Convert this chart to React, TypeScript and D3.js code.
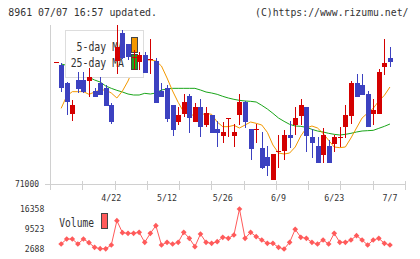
import React from "react";
import * as d3 from "d3";

const W = 420;
const H = 259;

// daily candles (yen)
const opens = [
  74570, 74030, 73110, 74120, 74120, 74100, 73790, 74030, 73870, 73370,
  74680, 75530, 75190, 74810, 74670, 74870, 74750, 74690, 73790, 73870,
  73370, 72870, 73100, 73640, 72870, 73320, 72770, 73070, 72650, 72450,
  72970, 72450, 73060, 73470, 72650, 72630, 72070, 71810, 71120, 71990,
  71980, 72470, 72770, 73050, 73310, 72400, 72140, 71870, 72140, 72210,
  72400, 72720, 73050, 74020, 73970, 73700, 73100, 73090, 74520, 74770,
];
const highs = [
  74630, 74060, 73520, 74360, 74360, 74480, 73880, 74210, 73970, 73430,
  75770, 75620, 75200, 75020, 74970, 74950, 75350, 74790, 74030, 73970,
  73380, 73310, 73700, 73700, 73430, 73550, 73300, 73080, 72890, 72870,
  72990, 72800, 73700, 73480, 72660, 72800, 72550, 72150, 71910, 72470,
  72620, 72890, 73300, 73550, 73320, 72650, 72410, 72670, 72320, 72470,
  72720, 73370, 74090, 74290, 74290, 73790, 73550, 74450, 75350, 75120,
];
const lows = [
  73760, 73060, 72880, 73730, 73730, 73620, 73610, 73660, 73340, 72790,
  74300, 74760, 74720, 74420, 74420, 74330, 74290, 73430, 73610, 72870,
  72450, 72770, 73020, 72540, 72860, 72400, 72720, 72530, 72120, 72220,
  72400, 72120, 72760, 72680, 71720, 72220, 71460, 71240, 71110, 71470,
  71720, 72070, 72470, 72770, 71970, 71790, 71630, 71630, 71630, 71970,
  72120, 72390, 72800, 73610, 73660, 72710, 72770, 73090, 74270, 74520,
];
const closes = [
  73880, 73450, 73370, 73850, 73770, 74210, 73620, 73670, 73350, 72870,
  75110, 74770, 74810, 74820, 74870, 74340, 74760, 73440, 73620, 72950,
  72620, 73070, 73470, 72970, 73320, 72720, 73120, 72540, 72540, 72570,
  72980, 72570, 73470, 72870, 72050, 72640, 71470, 71550, 71900, 72000,
  72470, 72390, 72970, 73370, 72450, 72220, 71640, 72470, 71640, 72400,
  72410, 73070, 74030, 73620, 73670, 72720, 73220, 74370, 74640, 74660,
];

// moving averages as drawn
const ma5 = [
  73270, 73640, 73770, 73770, 73770, 73690, 73760, 73820, 73820, 73730,
  73580, 73790, 74090, 74480, 74660, 74720, 74720, 74690, 74540, 74180,
  73790, 73450, 73160, 73080, 73060, 73070, 73120, 73090, 72860, 72720,
  72720, 72760, 72680, 72770, 72860, 72820, 72770, 72550, 72170, 71930,
  71900, 71930, 72110, 72440, 72680, 72740, 72680, 72520, 72310, 72110,
  72090, 72110, 72380, 72680, 72980, 73130, 73270, 73490, 73660, 73910,
];
const ma25 = [
  74600, 74560, 74480, 74390, 74300, 74200, 74120, 74060, 73940, 73870,
  73810, 73760, 73700, 73670, 73670, 73720, 73700, 73730, 73820, 73850,
  73870, 73870, 73870, 73870, 73870, 73820, 73760, 73730, 73690, 73630,
  73580, 73540, 73510, 73490, 73480, 73460, 73360, 73250, 73120, 72980,
  72880, 72790, 72740, 72730, 72700, 72640, 72590, 72560, 72520, 72490,
  72470, 72490, 72520, 72560, 72590, 72600, 72610, 72670, 72730, 72800,
];

const volumes = [
  4400, 6100, 6100, 4400, 6100, 4850, 3250, 2800, 2750, 4050,
  12370, 8270, 8040, 8040, 8390, 4970, 8040, 10660, 4050, 4970,
  4400, 4970, 8390, 6340, 3490, 7810, 4970, 4620, 5200, 6680,
  6340, 7470, 16358, 6340, 8390, 6900, 5760, 4620, 4620, 3250,
  2688, 4970, 9410, 6680, 6340, 4970, 4400, 5760, 4400, 8040,
  4970, 4970, 5760, 7250, 5760, 4050, 5760, 6340, 4620, 4050,
];

const dateLabels = ["4/22", "5/12", "5/26", "6/9", "6/23", "7/7"];
const dateIndex = [9, 19, 29, 39, 49, 59];
const priceLabel = 71000;

const RED = "#d40000";
const BLUE = "#3c41c0";
const ORANGE = "#f39800";
const GREEN = "#1aa51a";
const VOL = "#ff5a5a";
const GRID = "#d0d0d0";
const TXT = "#333";
const FONT = "'DejaVu Sans Mono', monospace";

export default function App() {
  const x = d3.scaleLinear().domain([-2, 61.7]).range([50, 405]);
  const y = d3.scaleLinear().domain([priceLabel, 75770]).range([184, 25]);
  const vExt = d3.extent(volumes) as [number, number];
  const yv = d3.scaleLinear().domain(vExt).range([249, 209]);
  const vMid = Math.round((vExt[0] + vExt[1]) / 2);

  const maLine = d3
    .line<number>()
    .x((_, i) => x(i))
    .y((d) => y(d));
  const volLine = d3
    .line<number>()
    .x((_, i) => x(i))
    .y((d) => yv(d));
  const diamond = d3.symbol(d3.symbolSquare, 16)();

  const gridTicks = d3.range(12).map((k) => 50 + (k * (405 - 50)) / 11);
  const lastClose = closes[closes.length - 1];

  return (
    <svg
      width={W}
      height={H}
      style={{ position: "absolute", left: 0, top: 0, background: "#fff" }}
      fontFamily={FONT}
    >
      <rect width={W} height={H} fill="#fff" />
      <text x={8.3} y={15.5} fontSize={10} fill={TXT} textLength={148.7} lengthAdjust="spacingAndGlyphs">
        8961 07/07 16:57 updated.
      </text>
      <text x={255} y={15.5} fontSize={10} fill={TXT} textLength={153.5} lengthAdjust="spacingAndGlyphs">
        (C)https://www.rizumu.net/
      </text>

      {/* axes */}
      <g shapeRendering="crispEdges" stroke={GRID}>
        <line x1={50.5} x2={50.5} y1={25} y2={190} />
        <line x1={45} x2={406} y1={184.5} y2={184.5} />
        {gridTicks.slice(1).map((t, k) => (
          <line key={k} x1={Math.round(t) + 0.5} x2={Math.round(t) + 0.5} y1={181} y2={190} />
        ))}
      </g>
      <text x={39} y={187.3} fontSize={8.6} fill={TXT} textAnchor="end" textLength={24} lengthAdjust="spacingAndGlyphs">
        {priceLabel}
      </text>
      <line x1={54} x2={59} y1={Math.round(y(lastClose)) + 0.5} y2={Math.round(y(lastClose)) + 0.5} stroke={RED} strokeWidth={1} shapeRendering="crispEdges" />

      {/* moving averages */}
      <path d={maLine(ma25) || ""} fill="none" stroke={GREEN} strokeWidth={1} />
      <path d={maLine(ma5) || ""} fill="none" stroke={ORANGE} strokeWidth={1} />

      {/* legend */}
      <rect x={65.5} y={30.5} width={77.5} height={47} fill="#fff" stroke="#ddd" shapeRendering="crispEdges" />
      <text x={124} y={50.7} fontSize={11.5} fill={TXT} textAnchor="end" textLength={47.4} lengthAdjust="spacingAndGlyphs">
        5-day MA
      </text>
      <text x={124} y={66.7} fontSize={11.5} fill={TXT} textAnchor="end" textLength={53.3} lengthAdjust="spacingAndGlyphs">
        25-day MA
      </text>
      <rect x={131.5} y={37.5} width={6} height={15} fill={ORANGE} stroke="#444" shapeRendering="crispEdges" />
      <rect x={131.5} y={54.5} width={6} height={15} fill={GREEN} stroke="#444" shapeRendering="crispEdges" />

      {/* candles */}
      <g shapeRendering="crispEdges">
        {closes.map((c, i) => {
          const o = opens[i];
          const up = c >= o;
          const col = up ? RED : BLUE;
          const cx = Math.round(x(i));
          const top = Math.round(y(Math.max(o, c)));
          const bot = Math.round(y(Math.min(o, c)));
          return (
            <g key={i}>
              <line x1={cx + 0.5} x2={cx + 0.5} y1={Math.round(y(highs[i]))} y2={Math.round(y(lows[i]))} stroke={col} />
              <rect x={cx - 2} y={top} width={5} height={Math.max(1, bot - top)} fill={col} />
            </g>
          );
        })}
      </g>

      {/* date labels */}
      {dateLabels.map((lbl, k) => (
        <text
          key={lbl}
          x={x(dateIndex[k])}
          y={200.8}
          fontSize={8.5}
          fill={TXT}
          textAnchor="middle"
          textLength={lbl.length * 5}
          lengthAdjust="spacingAndGlyphs"
        >
          {lbl}
        </text>
      ))}

      {/* volume */}
      {[vExt[1], vMid, vExt[0]].map((v) => (
        <text
          key={v}
          x={44.3}
          y={yv(v) + 2.7}
          fontSize={8}
          fill={TXT}
          textAnchor="end"
          textLength={String(v).length * 4.86}
          lengthAdjust="spacingAndGlyphs"
        >
          {v}
        </text>
      ))}
      <text x={59.3} y={226.7} fontSize={11.5} fill={TXT} textLength={34.7} lengthAdjust="spacingAndGlyphs">
        Volume
      </text>
      <rect x={101.5} y={213.5} width={6} height={15} fill={VOL} stroke="#444" shapeRendering="crispEdges" />
      <path d={volLine(volumes) || ""} fill="none" stroke={VOL} strokeWidth={1} />
      {volumes.map((v, i) => (
        <path key={i} d={diamond || ""} transform={`translate(${x(i)},${yv(v)}) rotate(45)`} fill={VOL} />
      ))}
    </svg>
  );
}
